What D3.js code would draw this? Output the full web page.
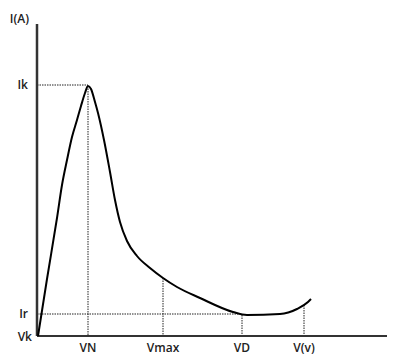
<!DOCTYPE html>
<html>
<head>
<meta charset="utf-8">
<script src="https://cdn.jsdelivr.net/npm/d3@7"></script>
<style>
  body { margin: 0; background: #fff; }
  text { font-family: "Open Sans", sans-serif; font-size: 12px; font-weight: 600; fill: #222; }
</style>
</head>
<body>
<svg id="chart" width="400" height="363"></svg>
<script>
// curve (arbitrary units)
const voltage = [1, 10, 20, 25, 30, 35, 40, 44, 48, 51, 54, 58, 61, 67, 73, 78, 83, 90, 100, 113, 126, 140, 163, 196, 210, 243, 260, 271, 274];
const current = [0, 57, 118, 151, 176, 199, 216, 230, 243, 250, 247, 234, 223, 196, 164, 136, 114, 95, 80, 68, 58, 49, 38, 24, 21, 22, 27, 34, 37];

// x guides: label, position, where the curve is
const xLabels = ["VN", "Vmax", "VD", "V(v)"];
const xGuides = [51, 126, 205, 267];
const xGuideTop = [250, 58, 21, 31];

// y guides
const yLabels = ["Ik", "Ir"];
const yGuides = [251, 22];
const yGuideEnd = [51, 205];

const margin = { top: 24, right: 13, bottom: 27, left: 37 },
  width = 400 - margin.left - margin.right,
  height = 363 - margin.top - margin.bottom;

const svg = d3.select("#chart");
const g = svg.append("g")
  .attr("transform", `translate(${margin.left},${margin.top})`);

const x = d3.scaleLinear().domain([0, 350]).range([0, width]);
const y = d3.scaleLinear().domain([0, 312]).range([height, 0]);

// dotted guides
g.selectAll(".hguide")
  .data(yGuides)
  .join("line")
  .attr("x1", 0)
  .attr("x2", (d, i) => x(yGuideEnd[i]))
  .attr("y1", d => y(d))
  .attr("y2", d => y(d))
  .attr("stroke", "#222")
  .attr("stroke-width", 1)
  .attr("stroke-dasharray", "1.5,1");

g.selectAll(".vguide")
  .data(xGuides)
  .join("line")
  .attr("x1", d => x(d))
  .attr("x2", d => x(d))
  .attr("y1", (d, i) => y(xGuideTop[i]))
  .attr("y2", height)
  .attr("stroke", "#222")
  .attr("stroke-width", 1)
  .attr("stroke-dasharray", "1.5,1");

// axes
g.append("line")
  .attr("x1", 0).attr("x2", 0)
  .attr("y1", 0).attr("y2", height)
  .attr("stroke", "#333").attr("stroke-width", 2.5);
g.append("line")
  .attr("x1", 0).attr("x2", width)
  .attr("y1", height).attr("y2", height)
  .attr("stroke", "#333").attr("stroke-width", 2);

// the curve
const line = d3.line()
  .x(d => x(d[0]))
  .y(d => y(d[1]))
  .curve(d3.curveMonotoneX);

g.append("path")
  .datum(d3.zip(voltage, current))
  .attr("d", line)
  .attr("fill", "none")
  .attr("stroke", "#000")
  .attr("stroke-width", 2);

// labels
g.selectAll(".xlab")
  .data(xLabels)
  .join("text")
  .attr("x", (d, i) => x(xGuides[i]))
  .attr("y", height + 12)
  .attr("dy", "0.35em")
  .attr("text-anchor", "middle")
  .text(d => d);

g.selectAll(".ylab")
  .data(yLabels)
  .join("text")
  .attr("x", -9)
  .attr("y", (d, i) => y(yGuides[i]))
  .attr("dy", "0.35em")
  .attr("text-anchor", "end")
  .text(d => d);

g.append("text")
  .attr("x", -5)
  .attr("y", height + 1)
  .attr("dy", "0.35em")
  .attr("text-anchor", "end")
  .text("Vk");

g.append("text")
  .attr("x", -8)
  .attr("y", -5)
  .attr("dy", "0.35em")
  .attr("text-anchor", "end")
  .text("I(A)");
</script>
</body>
</html>
